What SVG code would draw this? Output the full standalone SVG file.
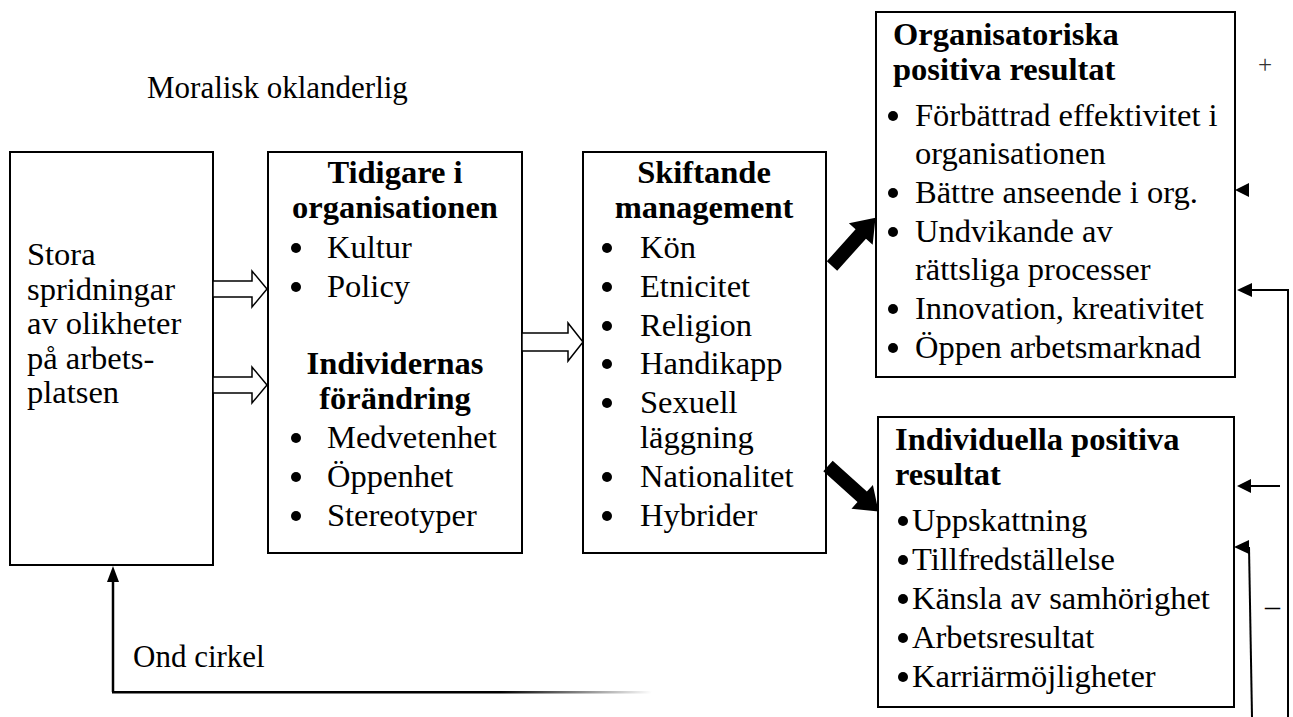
<svg xmlns="http://www.w3.org/2000/svg" width="1293" height="717" viewBox="0 0 1293 717">
<style>
.box{fill:#fff;stroke:#000;stroke-width:2}
text{font-family:"Liberation Serif","Times New Roman",serif;font-size:32.5px;fill:#000}
.b{font-weight:bold}
.c{text-anchor:middle}
.hol{fill:#fff;stroke:#000;stroke-width:1.5}
.ln{stroke:#000;stroke-width:2;fill:none}
</style>
<defs>
<linearGradient id="fade" x1="0" y1="0" x2="1" y2="0">
<stop offset="0.72" stop-color="#000"/>
<stop offset="1" stop-color="#000" stop-opacity="0"/>
</linearGradient>
</defs>
<text x="147" y="98" style="font-size:31px">Moralisk oklanderlig</text>
<text x="1265" y="73" class="c" style="font-size:25px;fill:#333">+</text>
<text x="1265" y="616" style="font-size:30px">–</text>
<text x="133" y="667" style="font-size:31px">Ond cirkel</text>

<g id="n1">
<rect class="box" x="10" y="152" width="203" height="413"/>
<text x="27" y="265">Stora</text>
<text x="27" y="300">spridningar</text>
<text x="27" y="334">av olikheter</text>
<text x="27" y="369">på arbets-</text>
<text x="27" y="403">platsen</text>
</g>

<g id="n2">
<rect class="box" x="268" y="152" width="254" height="401"/>
<text class="b c" x="395" y="183">Tidigare i</text>
<text class="b c" x="395" y="218">organisationen</text>
<circle cx="296" cy="248" r="5"/><text x="327" y="258">Kultur</text>
<circle cx="296" cy="287" r="5"/><text x="327" y="297">Policy</text>
<text class="b c" x="395" y="374">Individernas</text>
<text class="b c" x="395" y="409">förändring</text>
<circle cx="296" cy="438" r="5"/><text x="327" y="448">Medvetenhet</text>
<circle cx="296" cy="477" r="5"/><text x="327" y="487">Öppenhet</text>
<circle cx="296" cy="516" r="5"/><text x="327" y="526">Stereotyper</text>
</g>

<g id="n3">
<rect class="box" x="583" y="152" width="243" height="401"/>
<text class="b c" x="704" y="183">Skiftande</text>
<text class="b c" x="704" y="218">management</text>
<circle cx="607" cy="248" r="5"/><text x="640" y="258">Kön</text>
<circle cx="607" cy="287" r="5"/><text x="640" y="297">Etnicitet</text>
<circle cx="607" cy="326" r="5"/><text x="640" y="336">Religion</text>
<circle cx="607" cy="364" r="5"/><text x="640" y="374">Handikapp</text>
<circle cx="607" cy="403" r="5"/><text x="640" y="413">Sexuell</text>
<text x="640" y="448">läggning</text>
<circle cx="607" cy="477" r="5"/><text x="640" y="487">Nationalitet</text>
<circle cx="607" cy="516" r="5"/><text x="640" y="526">Hybrider</text>
</g>

<g id="n4">
<rect class="box" x="876" y="12" width="359" height="365"/>
<text class="b" x="893" y="45">Organisatoriska</text>
<text class="b" x="893" y="80">positiva resultat</text>
<circle cx="893" cy="116" r="5"/><text x="915" y="126">Förbättrad effektivitet i</text>
<text x="915" y="164">organisationen</text>
<circle cx="893" cy="193" r="5"/><text x="915" y="203">Bättre anseende i org.</text>
<circle cx="893" cy="232" r="5"/><text x="915" y="242">Undvikande av</text>
<text x="915" y="280">rättsliga processer</text>
<circle cx="893" cy="309" r="5"/><text x="915" y="319">Innovation, kreativitet</text>
<circle cx="893" cy="348" r="5"/><text x="915" y="358">Öppen arbetsmarknad</text>
</g>

<g id="n5">
<rect class="box" x="878" y="417" width="356" height="290"/>
<text class="b" x="895" y="450">Individuella positiva</text>
<text class="b" x="895" y="485">resultat</text>
<circle cx="903" cy="521" r="5"/><text x="912" y="531">Uppskattning</text>
<circle cx="903" cy="560" r="5"/><text x="912" y="570">Tillfredställelse</text>
<circle cx="903" cy="599" r="5"/><text x="912" y="609">Känsla av samhörighet</text>
<circle cx="903" cy="638" r="5"/><text x="912" y="648">Arbetsresultat</text>
<circle cx="903" cy="677" r="5"/><text x="912" y="687">Karriärmöjligheter</text>
</g>

<g id="connectors">
<path class="hol" d="M213,281 H252 V271 L267,289 L252,307 V297 H213 Z"/>
<path class="hol" d="M213,377 H252 V367 L267,385 L252,403 V393 H213 Z"/>
<path class="hol" d="M522,333 H568 V323 L583,342 L568,361 V351 H522 Z"/>
<path d="M0,-7 H43 V-16 L65,0 L43,16 V7 H0 Z" transform="translate(832,266) rotate(-48)"/>
<path d="M0,-7 H46 V-16 L68,0 L46,16 V7 H0 Z" transform="translate(828,466) rotate(42)"/>
<polygon points="1235,190 1249,183 1249,197"/>
<polygon points="1237,290 1252,283 1252,297"/>
<path class="ln" d="M1251,290 H1288 V717"/>
<polygon points="1237,486 1251,479 1251,493"/>
<path class="ln" d="M1250,486 H1280"/>
<polygon points="1234,547 1249,540 1249,554"/>
<path class="ln" d="M1249,547 L1252,717"/>
<polygon points="113,566 107,582 119,582"/>
<path class="ln" d="M113,580 V692" style="stroke-width:2.5"/>
<rect x="112" y="691" width="540" height="2.5" fill="url(#fade)"/>
</g>
</svg>
